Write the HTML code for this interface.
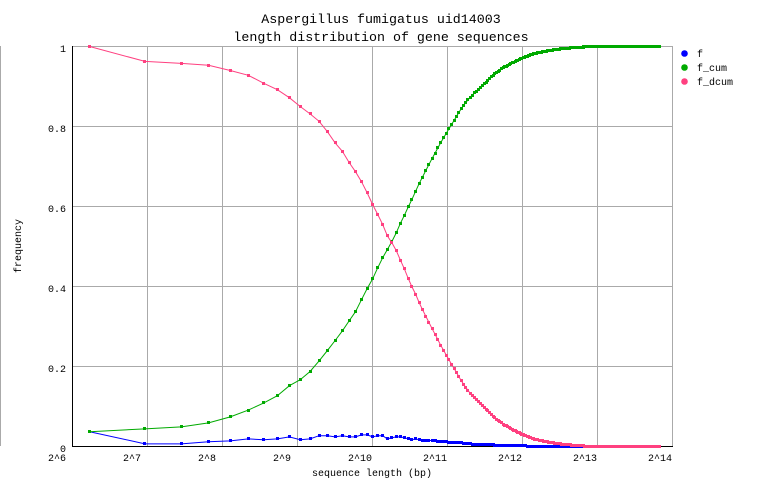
<!DOCTYPE html>
<html><head><meta charset="utf-8">
<style>
html,body{margin:0;padding:0;background:#fff;width:762px;height:498px;overflow:hidden;}
svg{display:block;}
text{font-family:"Liberation Mono","DejaVu Sans Mono",monospace;font-size:10px;fill:#000;}
.t{font-size:13.3px;}
</style></head><body>
<svg id="c" width="762" height="498" viewBox="0 0 762 498" xmlns="http://www.w3.org/2000/svg">
<rect width="762" height="498" fill="#fff"/>
<line x1="0.5" y1="46" x2="0.5" y2="446" stroke="#aaa"/>
<g stroke="#aaa" stroke-width="1" shape-rendering="crispEdges">
<line x1="147.5" y1="46" x2="147.5" y2="446"/>
<line x1="222.5" y1="46" x2="222.5" y2="446"/>
<line x1="297.5" y1="46" x2="297.5" y2="446"/>
<line x1="372.5" y1="46" x2="372.5" y2="446"/>
<line x1="447.5" y1="46" x2="447.5" y2="446"/>
<line x1="522.5" y1="46" x2="522.5" y2="446"/>
<line x1="597.5" y1="46" x2="597.5" y2="446"/>
<line x1="672.5" y1="46" x2="672.5" y2="446"/>
<line x1="72" y1="46.5" x2="673" y2="46.5"/>
<line x1="72" y1="126.5" x2="673" y2="126.5"/>
<line x1="72" y1="206.5" x2="673" y2="206.5"/>
<line x1="72" y1="286.5" x2="673" y2="286.5"/>
<line x1="72" y1="366.5" x2="673" y2="366.5"/>
</g>
<g stroke="#000" stroke-width="1" shape-rendering="crispEdges">
<line x1="72.5" y1="46" x2="72.5" y2="447"/>
<line x1="72" y1="446.5" x2="673" y2="446.5"/>
</g>
<g id="data"></g>

<text class="t" x="381" y="23" text-anchor="middle">Aspergillus fumigatus uid14003</text>
<text class="t" x="381" y="41" text-anchor="middle">length distribution of gene sequences</text>

<g text-anchor="end">
<text x="66" y="52">1</text>
<text x="66" y="132">0.8</text>
<text x="66" y="212">0.6</text>
<text x="66" y="292">0.4</text>
<text x="66" y="372">0.2</text>
<text x="66" y="452">0</text>
</g>
<g>
<text x="48" y="461">2^6</text>
<text x="123" y="461">2^7</text>
<text x="198" y="461">2^8</text>
<text x="273" y="461">2^9</text>
<text x="348" y="461">2^10</text>
<text x="423" y="461">2^11</text>
<text x="498" y="461">2^12</text>
<text x="573" y="461">2^13</text>
<text x="648" y="461">2^14</text>
</g>
<text x="372" y="476" text-anchor="middle">sequence length (bp)</text>
<text x="21" y="246" text-anchor="middle" transform="rotate(-90 21 246)">frequency</text>

<circle cx="684.5" cy="53.5" r="3.3" fill="#0000ff"/>
<circle cx="684.5" cy="67.5" r="3.3" fill="#00aa00"/>
<circle cx="684.5" cy="81.5" r="3.3" fill="#ff4080"/>
<text x="697" y="57">f</text>
<text x="697" y="71">f_cum</text>
<text x="697" y="85">f_dcum</text>
</svg>
<script>
(function(){
var NS="http://www.w3.org/2000/svg";
var g=document.getElementById('data');
var fb=[0.037,0.0067,0.0067,0.012,0.014,0.019,0.017,0.019,0.024,0.017,0.019,0.027,0.027,0.024,0.027,0.024,0.024,0.029,0.029,0.024,0.027,0.027,0.019,0.022,0.024,0.024,0.022,0.019,0.017,0.019,0.017];
var gc=[0.037,0.044,0.049,0.059,0.074,0.091,0.109,0.127,0.152,0.167,0.1875,0.214,0.24,0.265,0.289,0.314,0.337,0.367,0.395,0.419,0.447,0.472,0.4925,0.5125,0.534,0.558,0.578,0.599,0.618,0.638,0.657];
var A=[[1575,0.657],[1676,0.690],[1772,0.719],[1839,0.737],[1925,0.760],[2016,0.781],[2093,0.798],[2190,0.818],[2294,0.839],[2403,0.857],[2516,0.872],[2636,0.885],[2761,0.896],[2891,0.908],[3028,0.920],[3171,0.932],[3321,0.941],[3478,0.949],[3643,0.956],[3815,0.962],[4122,0.972],[4547,0.982],[4988,0.9875],[5819,0.994],[6789,0.998],[7679,0.9995],[9000,1.0],[20000,1.0]];
function F(L){
  var x=Math.log2(L);
  if(L<=A[0][0])return A[0][1];
  for(var i=1;i<A.length;i++){
    if(L<=A[i][0]){
      var x0=Math.log2(A[i-1][0]),x1=Math.log2(A[i][0]);
      var t=(x-x0)/(x1-x0);
      return A[i-1][1]+t*(A[i][1]-A[i-1][1]);
    }
  }
  return 1;
}
var N=290,Ls=[],fc=[],raw=[],f=[],fd=[];
for(var k=0;k<N;k++){
  var L=75+50*k;Ls.push(L);
  fc[k]=k<=30?gc[k]:F(L);
}
for(k=31;k<N;k++){raw[k]=Math.max(0,fc[k]-fc[k-1]);}
for(k=0;k<N;k++){
  if(k<=30){f[k]=fb[k];}
  else{
    var s=0,c=0;
    for(var j=k-2;j<=k+2;j++){if(j>=31&&j<N){s+=raw[j];c++;}}
    f[k]=s/c;
  }
  fd[k]=1-fc[k]+f[k];
}
function X(L){return 72.5+75*(Math.log2(L)-6);}
function Y(v){return 446.5-400*v;}
function series(vals,col){
  var pts=[],m="";
  for(var i=0;i<N;i++){
    var x=X(Ls[i]),y=Y(vals[i]);
    pts.push(x.toFixed(2)+","+y.toFixed(2));
    var px=Math.floor(x)-1,py=Math.floor(y)-1;
    m+="M"+px+" "+py+"h3v3h-3z";
  }
  var pl=document.createElementNS(NS,"polyline");
  pl.setAttribute("points",pts.join(" "));
  pl.setAttribute("fill","none");
  pl.setAttribute("stroke",col);
  pl.setAttribute("stroke-width","1");
  g.appendChild(pl);
  var p=document.createElementNS(NS,"path");
  p.setAttribute("d",m);
  p.setAttribute("fill",col);
  p.setAttribute("shape-rendering","crispEdges");
  g.appendChild(p);
}
series(f,"#0000ff");
series(fc,"#00aa00");
series(fd,"#ff4080");
})();
</script>
</body></html>
